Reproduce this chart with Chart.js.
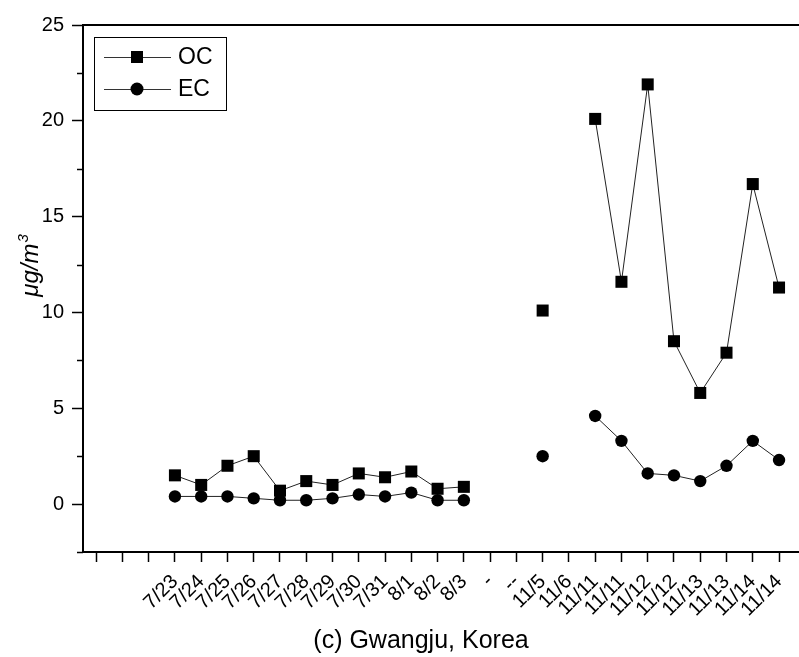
<!DOCTYPE html>
<html>
<head>
<script src="https://cdn.jsdelivr.net/npm/chart.js"></script>
<style>
  html, body { margin: 0; padding: 0; background: #fff; }
  #wrap { width: 799px; height: 657px; position: relative; }
</style>
</head>
<body>
<div id="wrap"><canvas id="chart"></canvas></div>
<script>
// sampling dates (blank slots at the start, dashes mark the break)
const dates = ['', '', '', '7/23', '7/24', '7/25', '7/26', '7/27', '7/28', '7/29', '7/30', '7/31', '8/1', '8/2', '8/3',
  '-', '--', '11/5', '11/6', '11/11', '11/11', '11/12', '11/12', '11/13', '11/13', '11/14', '11/14'];
const ocValues = [null, null, null, 1.5, 1.0, 2.0, 2.5, 0.7, 1.2, 1.0, 1.6, 1.4, 1.7, 0.8, 0.9,
  null, null, 10.1, null, 20.1, 11.6, 21.9, 8.5, 5.8, 7.9, 16.7, 11.3];
const ecValues = [null, null, null, 0.4, 0.4, 0.4, 0.3, 0.2, 0.2, 0.3, 0.5, 0.4, 0.6, 0.2, 0.2,
  null, null, 2.5, null, 4.6, 3.3, 1.6, 1.5, 1.2, 2.0, 3.3, 2.3];
const yTicks = [0, 5, 10, 15, 20, 25];
const yMinorTicks = [-2.5, 2.5, 7.5, 12.5, 17.5, 22.5];
const xTitle = '(c) Gwangju, Korea';

const FONT = "'Liberation Sans', Arial, sans-serif";

const toPoints = vals => vals.map((v, i) => ({ x: i, y: v }));

// legend box, frame top line, minor ticks and axis titles
const decor = {
  id: 'decor',
  afterDraw(chart) {
    const ctx = chart.ctx;
    const area = chart.chartArea;
    const ys = chart.scales.y;
    ctx.save();
    ctx.strokeStyle = '#000';
    ctx.fillStyle = '#000';

    // top frame line
    ctx.lineWidth = 2;
    ctx.beginPath();
    ctx.moveTo(area.left - 1, area.top);
    ctx.lineTo(chart.width, area.top);
    ctx.stroke();

    // minor y ticks
    ctx.lineWidth = 1.5;
    yMinorTicks.forEach(v => {
      const py = Math.round(ys.getPixelForValue(v)) + 0.5;
      ctx.beginPath();
      ctx.moveTo(area.left - 6, py);
      ctx.lineTo(area.left, py);
      ctx.stroke();
    });

    // legend
    ctx.lineWidth = 1;
    ctx.strokeRect(94.5, 37.5, 132, 73);
    chart.data.datasets.forEach((ds, i) => {
      const y = 57 + i * 32;
      ctx.strokeStyle = '#333';
      ctx.beginPath();
      ctx.moveTo(104, y + 0.5);
      ctx.lineTo(171, y + 0.5);
      ctx.stroke();
      ctx.fillStyle = '#000';
      ctx.beginPath();
      if (ds.pointStyle === 'rect') {
        ctx.rect(137 - 6, y - 6, 12, 12);
      } else {
        ctx.arc(137, y, 6.5, 0, Math.PI * 2);
      }
      ctx.fill();
      ctx.font = '23px ' + FONT;
      ctx.textBaseline = 'middle';
      ctx.textAlign = 'left';
      ctx.fillText(ds.label, 178, y + 1);
    });

    // x title
    ctx.fillStyle = '#000';
    ctx.font = '25px ' + FONT;
    ctx.textAlign = 'center';
    ctx.textBaseline = 'alphabetic';
    ctx.fillText(xTitle, 421, 648);

    // y title: italic µg/m with superscript 3
    ctx.translate(38, 266);
    ctx.rotate(-Math.PI / 2);
    ctx.font = 'italic 24px ' + FONT;
    const main = '\u03bcg/m';
    const w1 = ctx.measureText(main).width;
    ctx.font = 'italic 15px ' + FONT;
    const w2 = ctx.measureText('3').width;
    const x0 = -(w1 + w2) / 2;
    ctx.textAlign = 'left';
    ctx.font = 'italic 24px ' + FONT;
    ctx.fillText(main, x0, 0);
    ctx.font = 'italic 15px ' + FONT;
    ctx.fillText('3', x0 + w1 + 1, -10);
    ctx.restore();
  }
};

new Chart(document.getElementById('chart'), {
  type: 'line',
  data: {
    datasets: [
      {
        label: 'OC',
        data: toPoints(ocValues),
        borderColor: '#222',
        borderWidth: 1,
        pointStyle: 'rect',
        pointRadius: 8.5,
        pointBackgroundColor: '#000',
        pointBorderColor: '#000',
        pointBorderWidth: 0,
        spanGaps: false,
        tension: 0
      },
      {
        label: 'EC',
        data: toPoints(ecValues),
        borderColor: '#222',
        borderWidth: 1,
        pointStyle: 'circle',
        pointRadius: 6.2,
        pointBackgroundColor: '#000',
        pointBorderColor: '#000',
        pointBorderWidth: 0,
        spanGaps: false,
        tension: 0
      }
    ]
  },
  options: {
    responsive: true,
    maintainAspectRatio: false,
    animation: false,
    events: [],
    layout: { autoPadding: false, padding: { top: 25, right: 0, left: 0, bottom: 0 } },
    plugins: {
      legend: { display: false },
      tooltip: { enabled: false }
    },
    scales: {
      x: {
        type: 'linear',
        min: -0.5,
        max: 26.76,
        afterBuildTicks: scale => { scale.ticks = dates.map((d, i) => ({ value: i })); },
        afterFit: scale => {
          scale.height = 105;
          scale.paddingLeft = 0;
          scale.paddingRight = 0;
        },
        grid: { drawOnChartArea: false, tickLength: 10, tickWidth: 1.5, tickColor: '#000' },
        border: { color: '#000', width: 2 },
        ticks: {
          autoSkip: false,
          minRotation: 45,
          maxRotation: 45,
          padding: 8,
          color: '#000',
          font: { family: FONT, size: 20 },
          callback: v => dates[v]
        }
      },
      y: {
        min: -2.5,
        max: 25,
        afterBuildTicks: scale => { scale.ticks = yTicks.map(v => ({ value: v })); },
        afterFit: scale => { scale.width = 83; },
        grid: { drawOnChartArea: false, tickLength: 11, tickWidth: 1.5, tickColor: '#000' },
        border: { color: '#000', width: 2 },
        ticks: {
          padding: 8,
          color: '#000',
          font: { family: FONT, size: 20 }
        }
      }
    }
  },
  plugins: [decor]
});
</script>
</body>
</html>
